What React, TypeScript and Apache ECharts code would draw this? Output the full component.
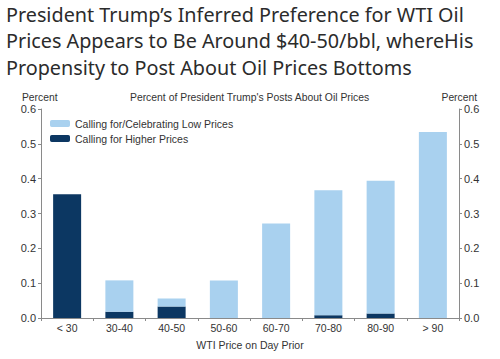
import React, { useEffect, useRef } from "react";
import * as echarts from "echarts";

const categories = ["< 30", "30-40", "40-50", "50-60", "60-70", "70-80", "80-90", "> 90"];
const totalShare = [0.355, 0.108, 0.056, 0.108, 0.271, 0.367, 0.394, 0.534];
const higherPrices = [0.355, 0.018, 0.033, 0, 0, 0.008, 0.013, 0];
const lowPrices = totalShare.map((t, i) => +(t - higherPrices[i]).toFixed(3));
const yTicks = [0, 0.1, 0.2, 0.3, 0.4, 0.5, 0.6];

const LIGHT = "#a9d1ef";
const DARK = "#0c3762";
const AXIS = "#8a8a8a";
const TXT = "#333333";
const FONT = "Liberation Sans, Arial, sans-serif";

export default function App() {
  const ref = useRef<HTMLDivElement>(null);
  useEffect(() => {
    if (!ref.current) return;
    const chart = echarts.init(ref.current, null, { renderer: "svg" });
    const yAxisBase = (pos: "left" | "right") => ({
      type: "value" as const,
      position: pos,
      min: yTicks[0],
      max: yTicks[yTicks.length - 1],
      interval: 0.1,
      axisLine: { show: true, lineStyle: { color: AXIS, width: 1 } },
      axisTick: { show: true, length: 3, lineStyle: { color: AXIS } },
      splitLine: { show: false },
      axisLabel: {
        fontSize: 11,
        color: TXT,
        fontFamily: FONT,
        margin: 5,
        formatter: (v: number) => v.toFixed(1),
      },
    });
    chart.setOption({
      animation: false,
      textStyle: { fontFamily: FONT },
      grid: { left: 41, right: 41, top: 109, bottom: 41 },
      graphic: [
        {
          type: "text",
          left: 6,
          top: 1,
          style: {
            text:
              "President Trump\u2019s Inferred Preference for WTI Oil\nPrices Appears to Be Around $40-50/bbl, whereHis\nPropensity to Post About Oil Prices Bottoms",
            fontSize: 19.8,
            lineHeight: 26.5,
            fontFamily: "Noto Sans, sans-serif",
            fill: "#2b2b2b",
          },
        },
        {
          type: "text",
          left: 22,
          top: 92,
          style: { text: "Percent", fontSize: 10.3, fontFamily: FONT, fill: TXT },
        },
        {
          type: "text",
          right: 23,
          top: 92,
          style: { text: "Percent", fontSize: 10.3, fontFamily: FONT, fill: TXT },
        },
        {
          type: "text",
          left: "center",
          top: 92,
          style: {
            text: "Percent of President Trump's Posts About Oil Prices",
            fontSize: 10.4,
            fontFamily: FONT,
            fill: TXT,
          },
        },
      ],
      legend: {
        orient: "vertical",
        left: 50,
        top: 118,
        padding: 0,
        itemWidth: 20,
        itemHeight: 7,
        itemGap: 4,
        data: ["Calling for/Celebrating Low Prices", "Calling for Higher Prices"],
        textStyle: { fontSize: 10.5, color: TXT, fontFamily: FONT },
      },
      xAxis: {
        type: "category",
        data: categories,
        name: "WTI Price on Day Prior",
        nameLocation: "middle",
        nameGap: 21,
        nameTextStyle: { fontSize: 10.5, color: TXT, fontFamily: FONT },
        axisLine: { show: true, lineStyle: { color: AXIS } },
        axisTick: { show: true, length: 3, lineStyle: { color: AXIS } },
        axisLabel: { fontSize: 10.5, color: TXT, fontFamily: FONT, margin: 4 },
      },
      yAxis: [yAxisBase("left"), yAxisBase("right")],
      series: [
        {
          name: "Calling for Higher Prices",
          type: "bar",
          stack: "total",
          data: higherPrices,
          barWidth: 28,
          itemStyle: { color: DARK },
        },
        {
          name: "Calling for/Celebrating Low Prices",
          type: "bar",
          stack: "total",
          data: lowPrices,
          barWidth: 28,
          itemStyle: { color: LIGHT },
        },
      ],
    });
    return () => chart.dispose();
  }, []);
  return (
    <div
      ref={ref}
      style={{ position: "fixed", left: 0, top: 0, width: 500, height: 359, background: "#fff" }}
    />
  );
}
